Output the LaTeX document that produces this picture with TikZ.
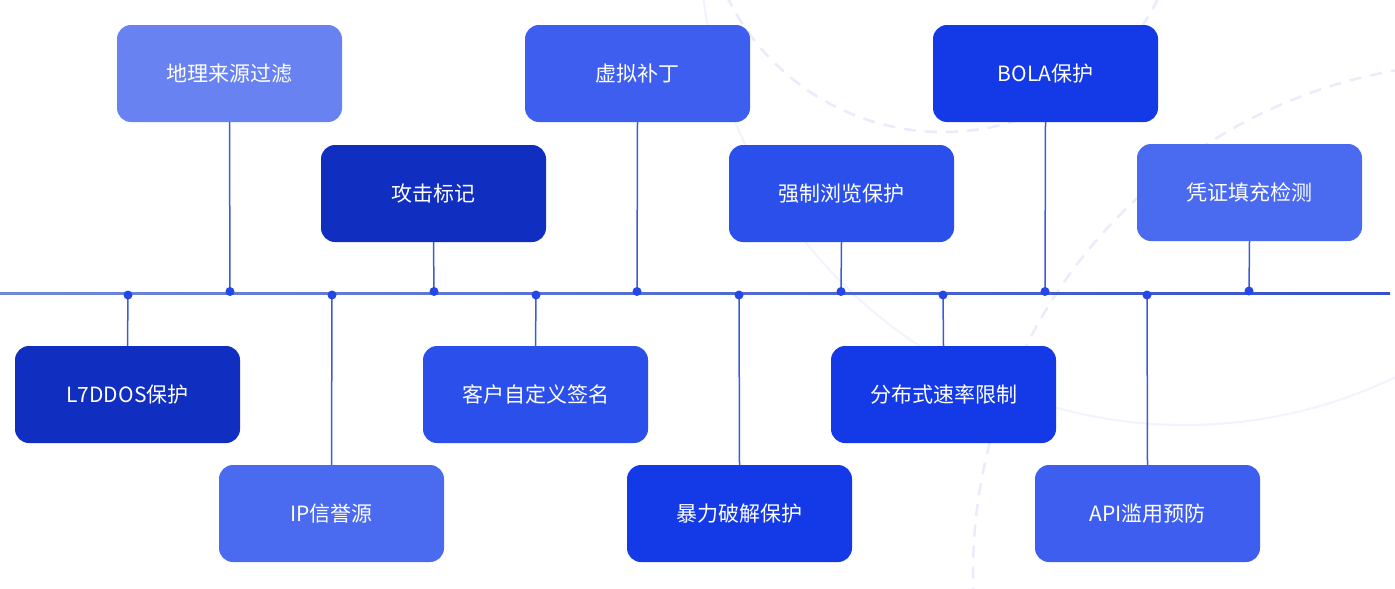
\documentclass[tikz,border=0pt]{standalone}
\usepackage{fontspec}
\setmainfont{Noto Sans CJK SC}
\definecolor{cA}{HTML}{6882F2}
\definecolor{cB}{HTML}{102FC0}
\definecolor{cC}{HTML}{3E5EF0}
\definecolor{cD}{HTML}{2B4FEA}
\definecolor{cE}{HTML}{1439E6}
\definecolor{cF}{HTML}{4A6AF0}
\definecolor{dotc}{HTML}{2447E6}
\definecolor{connc}{HTML}{3D5BD8}
\definecolor{axisL}{HTML}{7088D8}
\definecolor{axisR}{HTML}{3552C8}
\definecolor{decoD}{HTML}{E8ECFB}
\definecolor{decoS}{HTML}{F1F3FD}
\tikzset{
  box/.style={rounded corners=14pt, minimum width=225pt, minimum height=97pt,
    inner sep=0pt, text=white, font=\fontsize{21}{25}\selectfont},
  conn/.style={draw=connc, line width=1.5pt},
  dotmark/.style={fill=dotc},
  decodash/.style={draw=decoD, line width=2.5pt, dash pattern=on 12pt off 9pt},
  decosolid/.style={draw=decoS, line width=2pt}
}
\begin{document}
\begin{tikzpicture}[x=1pt,y=-1pt]
\useasboundingbox (0,0) rectangle (1395,589);
\fill[white] (0,0) rectangle (1395,589);
% faint background arcs
\begin{scope}
\clip (0,0) rectangle (1395,589);
\draw[decodash] (943,-108) circle (240pt);
\draw[decosolid] (1185,-60) circle (485pt);
\draw[decodash] (1483,573) circle (510pt);
\end{scope}
% axis
\coordinate (axL) at (0,293.5);
\coordinate (axR) at (1390,293.5);
\shade[left color=axisL, right color=axisR] ([yshift=-1pt]axL) rectangle ([yshift=1pt]axR);
% boxes
\node[box, fill=cA] (b1) at (229.5,73.5) {地理来源过滤};
\node[box, fill=cB] (b2) at (433.5,193.5) {攻击标记};
\node[box, fill=cC] (b3) at (637.5,73.5) {虚拟补丁};
\node[box, fill=cD] (b4) at (841.5,193.5) {强制浏览保护};
\node[box, fill=cE] (b5) at (1045.5,73.5) {BOLA保护};
\node[box, fill=cF] (b6) at (1249.5,192.5) {凭证填充检测};
\node[box, fill=cB] (b7) at (127.5,394.5) {L7DDOS保护};
\node[box, fill=cF] (b8) at (331.5,513.5) {IP信誉源};
\node[box, fill=cD] (b9) at (535.5,394.5) {客户自定义签名};
\node[box, fill=cE] (b10) at (739.5,513.5) {暴力破解保护};
\node[box, fill=cE] (b11) at (943.5,394.5) {分布式速率限制};
\node[box, fill=cC] (b12) at (1147.5,513.5) {API滥用预防};
% dot coordinates
\coordinate (d1) at (230,291.5);
\coordinate (d2) at (434,291.5);
\coordinate (d3) at (637,291.5);
\coordinate (d4) at (841,291.5);
\coordinate (d5) at (1045,291.5);
\coordinate (d6) at (1249,291);
\coordinate (d7) at (128,295);
\coordinate (d8) at (332,295);
\coordinate (d9) at (536,295);
\coordinate (d10) at (739,295);
\coordinate (d11) at (943,295);
\coordinate (d12) at (1147,295);
% connectors
\foreach \i in {1,...,6} { \draw[conn] (b\i.south) -- (d\i); }
\foreach \i in {7,...,12} { \draw[conn] (b\i.north) -- (d\i); }
% dots
\foreach \i in {1,...,12} { \fill[dotmark] (d\i) circle (4.5pt); }
\end{tikzpicture}
\end{document}
